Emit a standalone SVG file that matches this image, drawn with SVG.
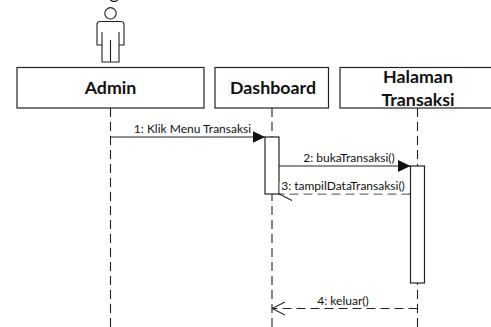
<svg xmlns="http://www.w3.org/2000/svg" width="491" height="327" viewBox="0 0 491 327">
<style>
text{font-family:Lato,"Open Sans",sans-serif;fill:#111}
.t{font-size:17.8px;font-weight:700;text-anchor:middle}
.m{font-size:12px;text-anchor:middle}
.b{fill:#fff;stroke:#222;stroke-width:1.2}
.l{fill:none;stroke:#222;stroke-width:1.1}
.d{stroke-dasharray:9 5}
</style>
<defs>
<marker id="fa" markerUnits="userSpaceOnUse" markerWidth="14" markerHeight="14" refX="12.5" refY="6.5" orient="auto"><path d="M0 .5L12.5 6.5L0 12.5Z" fill="#111"/></marker>
<marker id="oa" markerUnits="userSpaceOnUse" markerWidth="15" markerHeight="16" refX="14" refY="8" orient="auto"><path d="M1 1.5L14 8L1 14.5" fill="none" stroke="#222" stroke-width="1.1"/></marker>
</defs>
<g id="actor">
<text x="114" y="-1" style="font-size:17.8px;text-anchor:middle">g</text>
<circle cx="110.5" cy="13.3" r="5.7" class="l"/>
<path class="l" d="M100 21.5H121Q124 21.5 124 24.5V45H119V62H102V45H97V24.5Q97 21.5 100 21.5ZM102 32V45M119 32V45M110.5 40V62"/>
</g>
<g id="connectors">
<path class="l d" d="M110.5 108V327"/>
<path class="l d" d="M272 108V327"/>
<path class="l d" d="M417.5 108V327"/>
<path class="l" d="M110.5 137H265" marker-end="url(#fa)"/>
</g>
<g id="admin"><rect class="b" x="17" y="67.5" width="187" height="40.5"/><text class="t" x="110.5" y="93.5">Admin</text></g>
<g id="dashboard"><rect class="b" x="215" y="67.5" width="113.5" height="40.5"/><text class="t" x="273" y="93.5">Dashboard</text></g>
<g id="halaman"><rect class="b" x="340" y="67.5" width="160" height="40.5"/><text class="t" x="418" y="83">Halaman</text><text class="t" x="418" y="106">Transaksi</text></g>
<g id="act1"><rect class="b" x="265" y="137" width="14" height="57"/></g>
<g id="act2"><rect class="b" x="410.5" y="166" width="14" height="117"/></g>
<g id="messages">
<path class="l" d="M279 166H410.5" marker-end="url(#fa)"/>
<path class="l d" d="M410.5 194H279" marker-end="url(#oa)"/>
<rect x="279.7" y="182" width="128" height="11.4" fill="#fff"/>
<path class="l d" d="M417.5 308.5H272" marker-end="url(#oa)"/>
<text class="m" x="192.5" y="133">1: Klik Menu Transaksi</text>
<text class="m" x="349" y="162">2: bukaTransaksi()</text>
<text class="m" x="343" y="190">3: tampilDataTransaksi()</text>
<text class="m" x="343" y="305">4: keluar()</text>
</g>
</svg>
